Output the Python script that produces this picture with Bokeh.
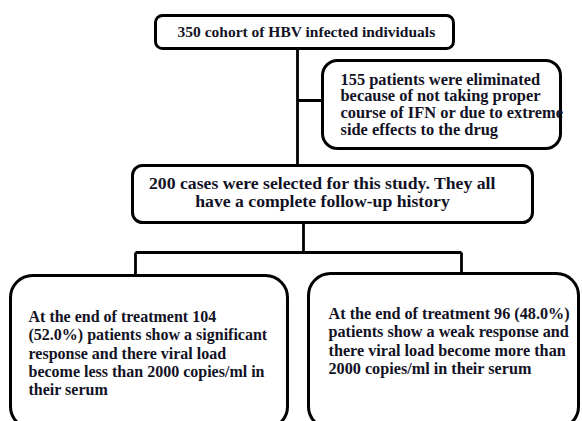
from bokeh.plotting import figure
from bokeh.models import Range1d
from bokeh.core.properties import value
from bokeh.embed import file_html
from bokeh.resources import INLINE

# ---- content (texts of the flowchart) ----
top_lines = ["350 cohort of HBV infected individuals"]
excl_lines = ["155 patients were eliminated",
              "because of not taking proper",
              "course of IFN or due to extreme",
              "side effects to the drug"]
sel_lines = ["200 cases were selected for this study. They all",
             "have a complete follow-up history"]
left_lines = ["At the end of treatment 104",
              "(52.0%) patients show a significant",
              "response and there viral load",
              "become less than 2000 copies/ml in",
              "their serum"]
right_lines = ["At the end of treatment 96 (48.0%)",
               "patients show a weak response and",
               "there viral load become more than",
               "2000 copies/ml in their serum"]

# ---- layout (reference pixel coordinates) ----
W, H = 582, 421

p = figure(width=W, height=H, x_range=Range1d(0, W), y_range=Range1d(H, 0),
           output_backend="svg", toolbar_location=None, min_border=0)
p.axis.visible = False
p.grid.visible = False
p.outline_line_color = None
p.background_fill_color = "white"
p.border_fill_color = "white"

LC = "black"
# connectors
segs = [
    ([297, 297], [48, 165]),
    ([297, 322], [100, 100]),
    ([303, 303], [222, 252]),
    ([135, 461], [252, 252]),
    ([135, 135], [252, 276]),
    ([461, 461], [252, 274]),
]
for xs, ys in segs:
    p.line(xs, ys, line_color=LC, line_width=2.8)

# boxes: left, right, top, bottom, radius
boxes = [
    (155, 453, 15, 48, 7),
    (322, 560, 60, 148, 15),
    (132, 532, 165, 222, 10),
    (10, 287, 275, 428, 22),
    (308, 578, 273, 428, 22),
]
for l, r, t, b, rad in boxes:
    p.quad(left=l, right=r, top=t, bottom=b, fill_color="white",
           line_color=LC, line_width=3, border_radius=rad)

TC = "#121225"
FONT = value("Liberation Serif")

def draw_lines(lines, x, y0, dy, size, align):
    ys = [y0 + i * dy for i in range(len(lines))]
    xs = [x] * len(lines)
    p.text(xs, ys, text=lines, text_font=FONT, text_font_style="bold",
           text_font_size=f"{size:.1f}px", text_align=align,
           text_baseline="middle", text_color=TC)

draw_lines(top_lines, 306, 31, 0, 15.5, "center")
draw_lines(excl_lines, 340, 78.5, 16.8, 16.4, "left")
draw_lines(sel_lines, 322, 182, 18.2, 17.7, "center")
draw_lines(left_lines, 28, 316, 18.3, 16, "left")
draw_lines(right_lines, 328, 313, 18.5, 16.2, "left")

open("out.html", "w").write(file_html(p, INLINE))
